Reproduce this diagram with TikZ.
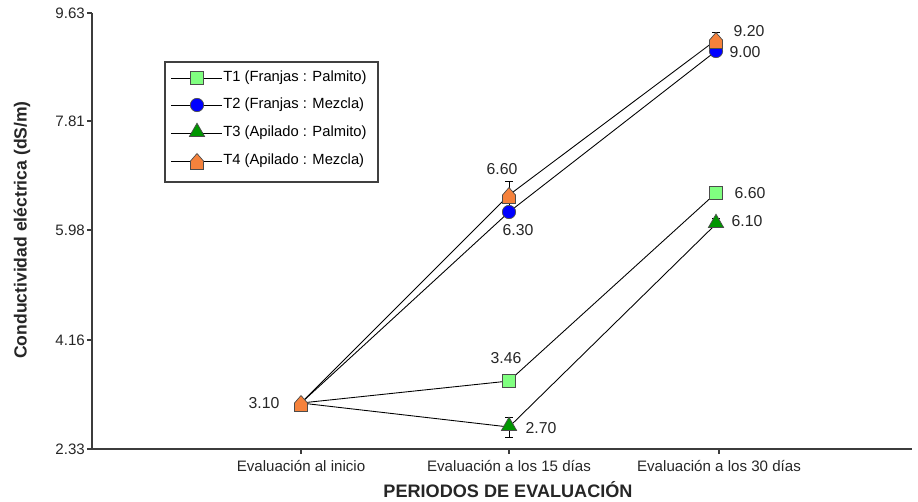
\documentclass[tikz,border=0pt]{standalone}
\usepackage{fontspec}
\setmainfont{Liberation Sans}
\usetikzlibrary{shapes.geometric,calc}
\definecolor{lgreen}{RGB}{128,255,128}
\definecolor{dgreen}{RGB}{0,150,0}
\definecolor{morange}{RGB}{245,130,60}
\definecolor{mblue}{RGB}{0,0,255}
\definecolor{axgray}{RGB}{60,60,60}
\tikzset{
  tick/.style={font=\fontsize{8.6pt}{10pt}\selectfont, text=black!85},
  dlab/.style={font=\fontsize{9pt}{10pt}\selectfont, text=black!85},
  leg/.style={font=\fontsize{8.4pt}{10pt}\selectfont, anchor=west, inner sep=0pt},
  conn/.style={black, line width=0.5pt},
  ebar/.style={black, line width=0.5pt},
  sqm/.style={draw=black!70, fill=lgreen, rectangle, minimum size=7.2pt, inner sep=0pt, line width=0.4pt},
  cim/.style={draw=black!70, fill=mblue, circle, minimum size=7.6pt, inner sep=0pt, line width=0.4pt},
  trm/.style={draw=black!70, fill=dgreen, regular polygon, regular polygon sides=3, minimum size=10pt, inner sep=0pt, line width=0.4pt},
}
% house marker
\newcommand{\housemark}[1]{%
  \fill[morange, draw=black!70, line width=0.4pt] ($(#1)+(-6.5,8.5)$) -- ($(#1)+(6.5,8.5)$) -- ($(#1)+(6.5,0)$) -- ($(#1)+(0,-7.5)$) -- ($(#1)+(-6.5,0)$) -- cycle;}
\begin{document}
\begin{tikzpicture}[x=0.02cm, y=-0.02cm]
\useasboundingbox (0,0) rectangle (918,501);
% axes
\draw[axgray, line width=0.8pt] (92,13) -- (92,449) -- (912,449);
\foreach \yy/\lab in {13/9.63, 121/7.81, 230/5.98, 340/4.16, 449/2.33}{
  \draw[axgray, line width=0.6pt] (87,\yy) -- (92,\yy);
  \node[tick, anchor=east, inner sep=1pt] at (87,\yy) {\lab};
}
\foreach \xx/\lab in {301/Evaluación al inicio, 509/Evaluación a los 15 días, 719/Evaluación a los 30 días}{
  \draw[axgray, line width=0.6pt] (\xx,449) -- (\xx,454);
  \node[tick] at (\xx,466) {\lab};
}
\node[font=\fontsize{10.3pt}{11pt}\selectfont\bfseries, text=black!85] (xt) at (508,490) {PERIODOS DE EVALUACIÓN};
\node[font=\fontsize{10pt}{11pt}\selectfont\bfseries, text=black!85, rotate=90] (yt) at (22,230) {Conductividad eléctrica (dS/m)};

% data coordinates
\coordinate (a0) at (301,403);
\coordinate (b0) at (301,403);
\coordinate (c0) at (301,403);
\coordinate (d0) at (301,403);
\coordinate (a1) at (509,381);
\coordinate (a2) at (716,193);
\coordinate (b1) at (509,212);
\coordinate (b2) at (716,51);
\coordinate (c1) at (509,427);
\coordinate (c2) at (716,224);
\coordinate (d1) at (509,195);
\coordinate (d2) at (716,40);

% connectors
\draw[conn] (a0) -- (a1) -- (a2);
\draw[conn] (b0) -- (b1) -- (b2);
\draw[conn] (c0) -- (c1) -- (c2);
\draw[conn] (d0) -- (d1) -- (d2);

% error bars
\draw[ebar] (509,417) -- (509,437) (505,417) -- (513,417) (505,437) -- (513,437);
\draw[ebar] (509,181) -- (509,205) (505,181) -- (513,181);
\draw[ebar] (716,32) -- (716,46) (712,32) -- (720,32);
\draw[ebar] (716,218) -- (716,228) (712,218) -- (720,218);

% markers
\node[sqm] (ma1) at (a1) {};
\node[sqm] (ma2) at (a2) {};
\node[cim] (mb1) at (b1) {};
\node[cim] (mb2) at (b2) {};
\node[trm] (mc1) at ($(c1)+(0,-1)$) {};
\node[trm] (mc2) at ($(c2)+(0,-1)$) {};
\housemark{d1}
\housemark{d2}
\housemark{a0}

% data labels
\node[dlab] (l0) at (264,403) {3.10};
\node[dlab] (l1) at (506,358) {3.46};
\node[dlab] (l2) at (541,428) {2.70};
\node[dlab] (l3) at (502,169) {6.60};
\node[dlab] (l4) at (518,230) {6.30};
\node[dlab] (l5) at (749,31) {9.20};
\node[dlab] (l6) at (745,52) {9.00};
\node[dlab] (l7) at (750,193) {6.60};
\node[dlab] (l8) at (747,221) {6.10};

% legend
\draw[black!75, line width=0.6pt] (165,62) rectangle (378,182);
\foreach \yy in {78,105,133,161}{ \draw[conn] (171,\yy) -- (222,\yy); }
\node[sqm] (g1) at (197,78) {};
\node[cim] (g2) at (197,105) {};
\node[trm] (g3) at (197,132) {};
\coordinate (g4) at (197,161);
\housemark{g4}
\node[leg] (t1) at (223,78) {T1 (Franjas : Palmito)};
\node[leg] (t2) at (223,105) {T2 (Franjas : Mezcla)};
\node[leg] (t3) at (223,133) {T3 (Apilado : Palmito)};
\node[leg] (t4) at (223,161) {T4 (Apilado : Mezcla)};
\end{tikzpicture}
\end{document}
